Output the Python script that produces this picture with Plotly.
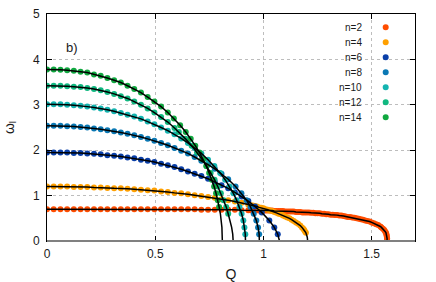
import plotly.graph_objects as go

# ---------------- data ----------------
q_grid = [0.000, 0.031, 0.062, 0.093, 0.124, 0.155, 0.186, 0.217, 0.248, 0.279, 0.310,
          0.341, 0.372, 0.403, 0.434, 0.465, 0.496, 0.527, 0.558, 0.589, 0.620, 0.651,
          0.682, 0.713, 0.744, 0.775, 0.806, 0.837, 0.868, 0.899, 0.930, 0.961, 0.992]

# n = 2
q2 = q_grid[:31] + [0.94, 0.95, 0.96, 0.97, 0.98, 0.99, 1.00, 1.01, 1.02, 1.03, 1.04, 1.05, 1.06,
                    1.07, 1.08, 1.09, 1.10, 1.11, 1.12, 1.13, 1.14, 1.15, 1.16, 1.17, 1.18, 1.19,
                    1.20, 1.21, 1.22, 1.23, 1.24, 1.25, 1.26, 1.27, 1.28, 1.29, 1.30, 1.31, 1.32,
                    1.33, 1.34, 1.35, 1.36, 1.37, 1.38, 1.39, 1.40, 1.41, 1.42, 1.43, 1.44, 1.45,
                    1.46, 1.47, 1.48, 1.49, 1.50, 1.51, 1.52, 1.53, 1.54,
                    1.545, 1.552, 1.558, 1.562, 1.566, 1.568, 1.569, 1.570, 1.571, 1.571, 1.571]
w2 = [0.70, 0.70, 0.70, 0.70, 0.70, 0.70, 0.70, 0.70, 0.70, 0.70, 0.70, 0.70, 0.70, 0.70, 0.70,
      0.70, 0.70, 0.70, 0.70, 0.70, 0.70, 0.70, 0.70, 0.69, 0.69, 0.69, 0.69, 0.69, 0.69, 0.68,
      0.68,
      0.68, 0.68, 0.68, 0.68, 0.67, 0.67, 0.67, 0.67, 0.67, 0.67, 0.67, 0.66, 0.66, 0.66, 0.66,
      0.66, 0.65, 0.65, 0.65, 0.65, 0.65, 0.64, 0.64, 0.64, 0.63, 0.63, 0.63, 0.63, 0.62, 0.62,
      0.61, 0.61, 0.61, 0.60, 0.60, 0.59, 0.59, 0.58, 0.58, 0.57, 0.57, 0.56, 0.56, 0.55, 0.54,
      0.53, 0.53, 0.52, 0.51, 0.50, 0.49, 0.48, 0.47, 0.45, 0.44, 0.43, 0.41, 0.39, 0.37, 0.35,
      0.32,
      0.30, 0.27, 0.24, 0.21, 0.18, 0.15, 0.12, 0.09, 0.06, 0.03, 0.00]
tq2, tw2 = [], []

# n = 4
q4 = q_grid[:31] + [0.94, 0.95, 0.96, 0.97, 0.98, 0.99, 1.00, 1.01, 1.02, 1.03, 1.04, 1.05,
                    1.06, 1.07, 1.08, 1.09, 1.10, 1.11, 1.12, 1.13, 1.14, 1.15, 1.16, 1.17,
                    1.178, 1.184, 1.188, 1.192, 1.196]
w4 = [1.20, 1.20, 1.20, 1.20, 1.19, 1.19, 1.19, 1.18, 1.18, 1.17, 1.16, 1.16, 1.15, 1.14, 1.13,
      1.12, 1.11, 1.09, 1.08, 1.06, 1.05, 1.03, 1.01, 0.99, 0.97, 0.95, 0.92, 0.90, 0.87, 0.84,
      0.80,
      0.79, 0.78, 0.77, 0.76, 0.74, 0.73, 0.72, 0.70, 0.69, 0.67, 0.66, 0.64, 0.62, 0.60, 0.59,
      0.56, 0.54, 0.52, 0.50, 0.47, 0.44, 0.41, 0.38, 0.34,
      0.30, 0.27, 0.24, 0.21, 0.18]
tq4 = [1.199, 1.201, 1.202, 1.203, 1.204, 1.204]
tw4 = [0.15, 0.12, 0.09, 0.06, 0.03, 0.00]

# n = 6
q6 = q_grid[:33] + [1.027, 1.050, 1.066]
w6 = [1.95, 1.95, 1.95, 1.95, 1.94, 1.94, 1.93, 1.92, 1.91, 1.89, 1.88, 1.86, 1.84, 1.82, 1.79,
      1.77, 1.74, 1.70, 1.67, 1.63, 1.58, 1.53, 1.48, 1.43, 1.37, 1.30, 1.23, 1.16, 1.07, 0.98,
      0.88, 0.76, 0.63,
      0.45, 0.30, 0.15]
tq6, tw6 = [1.074], [0.00]

# n = 8
q8 = q_grid[:28] + [0.871, 0.898, 0.922, 0.940, 0.955, 0.967, 0.975, 0.980]
w8 = [2.54, 2.54, 2.54, 2.53, 2.52, 2.51, 2.50, 2.48, 2.46, 2.44, 2.42, 2.39, 2.36, 2.33, 2.29,
      2.25, 2.21, 2.16, 2.11, 2.05, 1.99, 1.93, 1.85, 1.77, 1.68, 1.59, 1.48, 1.36,
      1.20, 1.05, 0.90, 0.75, 0.60, 0.45, 0.30, 0.15]
tq8, tw8 = [0.981], [0.00]

# n = 10
q10 = q_grid[:25] + [0.773, 0.800, 0.823, 0.843, 0.861, 0.876, 0.889, 0.899, 0.907, 0.912, 0.916]
w10 = [3.01, 3.01, 3.01, 3.00, 2.99, 2.98, 2.96, 2.94, 2.92, 2.89, 2.86, 2.82, 2.78, 2.74, 2.69,
       2.63, 2.57, 2.50, 2.43, 2.35, 2.26, 2.16, 2.05, 1.93, 1.79,
       1.65, 1.50, 1.35, 1.20, 1.05, 0.90, 0.75, 0.60, 0.45, 0.30, 0.15]
tq10, tw10 = [0.917], [0.00]

# n = 12
q12 = q_grid[:20] + [0.609, 0.640, 0.668, 0.693, 0.716, 0.737, 0.756, 0.774, 0.789, 0.803,
                     0.816, 0.828, 0.837]
w12 = [3.42, 3.42, 3.42, 3.41, 3.40, 3.39, 3.37, 3.35, 3.32, 3.28, 3.24, 3.19, 3.14, 3.07, 3.00,
       2.92, 2.83, 2.73, 2.62, 2.49,
       2.40, 2.25, 2.10, 1.95, 1.80, 1.65, 1.50, 1.35, 1.20, 1.05, 0.90, 0.75, 0.60]
tq12 = [0.846, 0.853, 0.858, 0.860]
tw12 = [0.45, 0.30, 0.15, 0.00]

# n = 14
q14 = q_grid[:19] + [0.586, 0.615, 0.641, 0.664, 0.685, 0.704, 0.721, 0.736, 0.749, 0.761,
                     0.772, 0.781, 0.789, 0.795]
w14 = [3.78, 3.78, 3.77, 3.76, 3.75, 3.73, 3.71, 3.67, 3.64, 3.59, 3.54, 3.49, 3.42, 3.35, 3.27,
       3.17, 3.07, 2.96, 2.83,
       2.70, 2.55, 2.40, 2.25, 2.10, 1.95, 1.80, 1.65, 1.50, 1.35, 1.20, 1.05, 0.90, 0.75]
tq14 = [0.801, 0.805, 0.808, 0.809, 0.810]
tw14 = [0.60, 0.45, 0.30, 0.15, 0.00]

labels = ['n=2', 'n=4', 'n=6', 'n=8', 'n=10', 'n=12', 'n=14']
x_ticks = [0, 0.5, 1, 1.5]
x_tick_text = ['0', '0.5', '1', '1.5']
y_ticks = [0, 1, 2, 3, 4, 5]
y_tick_text = ['0', '1', '2', '3', '4', '5']

# ---------------- styling ----------------
colors = ['#ff4d00', '#ffa000', '#0a3fa8', '#0a78b4', '#14b4b0', '#10b880', '#10a840']
series = [(q2, w2, tq2, tw2), (q4, w4, tq4, tw4), (q6, w6, tq6, tw6), (q8, w8, tq8, tw8),
          (q10, w10, tq10, tw10), (q12, w12, tq12, tw12), (q14, w14, tq14, tw14)]

fig = go.Figure()
for (q, w, tq, tw), c, lab in zip(series, colors, labels):
    fig.add_trace(go.Scatter(x=q, y=w, mode='markers', name=lab,
                             marker=dict(size=6, color=c, line=dict(width=0)), showlegend=False))
for (q, w, tq, tw), lab in zip(series, labels):
    fig.add_trace(go.Scatter(x=q + tq, y=w + tw, mode='lines', name=lab + ' fit',
                             line=dict(color='black', width=1.5), showlegend=False))

FONT = 'Liberation Sans, Arial, sans-serif'
fig.update_layout(width=436, height=282, margin=dict(l=47, r=21, t=14, b=41),
                  plot_bgcolor='white', paper_bgcolor='white', showlegend=False,
                  font=dict(family=FONT, size=12, color='#1a1a1a'))
ax = dict(ticks='inside', ticklen=5, tickwidth=1, tickcolor='black', showline=True,
          linecolor='black', linewidth=1, mirror='ticks', showgrid=True, gridcolor='#bdbdbd',
          griddash='dot', gridwidth=1, zeroline=False, automargin=False)
fig.update_xaxes(range=[0, 1.7], tickvals=x_ticks, ticktext=x_tick_text,
                 title=dict(text='Q', standoff=8), ticklabelstandoff=2, **ax)
fig.update_yaxes(range=[0, 5], tickvals=y_ticks, ticktext=y_tick_text,
                 title=dict(text='ω<sub>l</sub>', standoff=15), ticklabelstandoff=4, **ax)
fig.add_shape(type='line', xref='paper', yref='paper', x0=0, x1=1, y0=0, y1=0,
              line=dict(color='#808080', width=2), layer='above')
fig.add_annotation(text='b)', xref='paper', yref='paper', x=0.046, y=0.894,
                   showarrow=False, font=dict(size=13))
for k, (lab, c) in enumerate(zip(labels, colors)):
    yy = 0.9414 - k * 0.06608
    fig.add_annotation(text=lab, xref='paper', yref='paper', x=0.8587, y=yy, xanchor='right',
                       yanchor='middle', showarrow=False, font=dict(size=10), borderpad=0)
    fig.add_shape(type='circle', xref='paper', yref='paper',
                  x0=0.9204 - 0.0082, x1=0.9204 + 0.0082, y0=yy - 0.0132, y1=yy + 0.0132,
                  fillcolor=c, line=dict(width=0))
fig.write_html("out.html", config={'displayModeBar': False},
               post_script="document.body.style.margin='0';document.body.style.padding='0';")
